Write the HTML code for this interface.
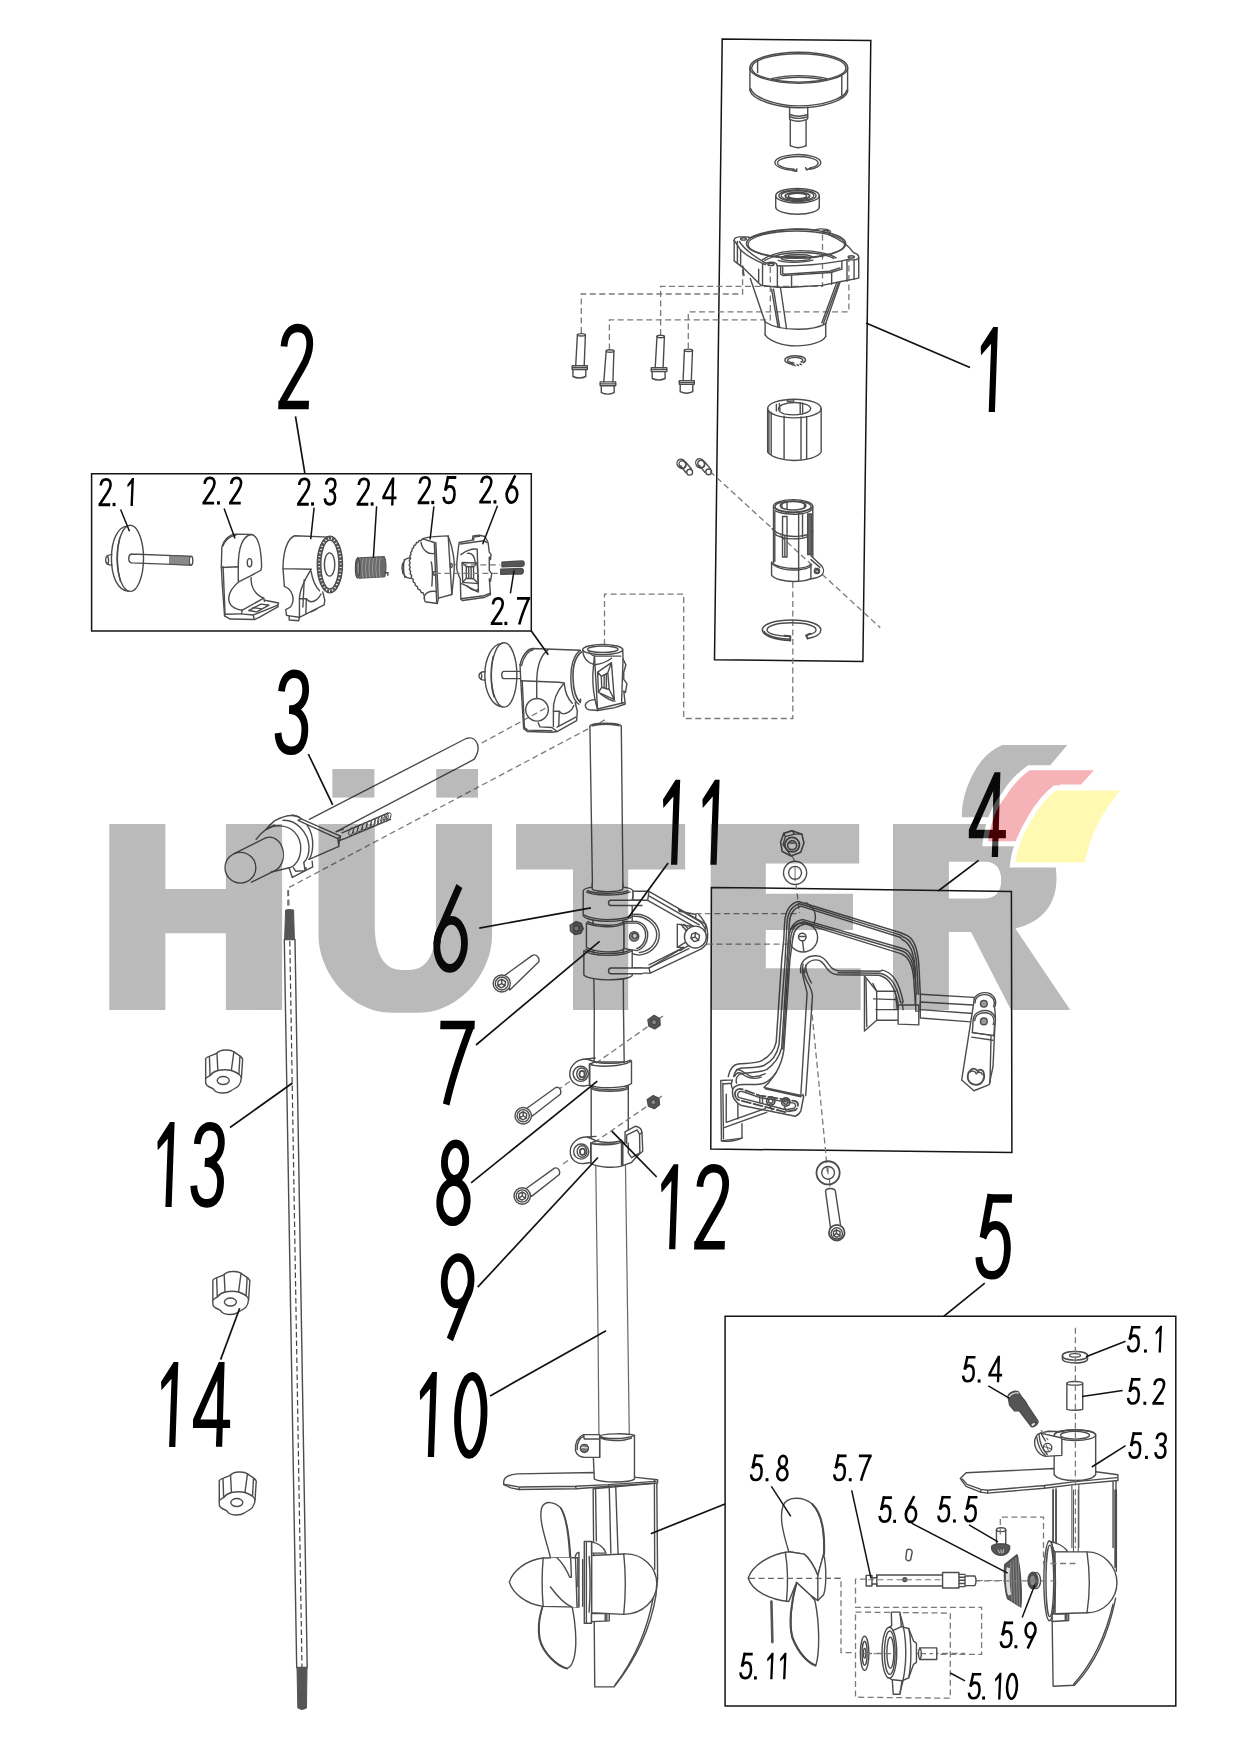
<!DOCTYPE html>
<html><head><meta charset="utf-8"><title>Diagram</title>
<style>
html,body{margin:0;padding:0;background:#fff;}
body{width:1241px;height:1755px;overflow:hidden;font-family:"Liberation Sans",sans-serif;}
svg{display:block}
.p{fill:none;stroke:#4c4c4c;stroke-width:1.4;vector-effect:non-scaling-stroke;stroke-linejoin:round;stroke-linecap:round}
.pf{fill:#fff;stroke:#4c4c4c;stroke-width:1.4;vector-effect:non-scaling-stroke;stroke-linejoin:round;stroke-linecap:round}
.d{fill:none;stroke:#7a7a7a;stroke-width:1.3;stroke-dasharray:6 3.5;vector-effect:non-scaling-stroke}
.k{fill:none;stroke:#111;stroke-width:1.7;vector-effect:non-scaling-stroke;stroke-linecap:butt}
.bx{fill:none;stroke:#151515;stroke-width:1.5}
.dk{fill:#555;stroke:#444;stroke-width:0.8}
svg path,svg ellipse,svg circle,svg line,svg rect,svg polyline,svg polygon{vector-effect:non-scaling-stroke}
.dg *{vector-effect:none}
</style></head><body>
<svg width="1241" height="1755" viewBox="0 0 1241 1755">
<rect width="1241" height="1755" fill="#fff"/>
<!-- 05_lib.py -->

<!-- 10_boxes.svg -->
<g class="bx">
<path d="M722.2,39 L870.8,40.6 L862.9,661.4 L714.5,659.8 Z"/>
<rect x="91.6" y="473.7" width="439.7" height="157.3"/>
<path d="M711.4,887.4 L1011.4,891.5 L1011.9,1152.6 L710.8,1149 Z"/>
<rect x="725.1" y="1316.3" width="450.7" height="389.6"/>
</g>

<!-- 20_box1.py -->
<path class="d" d="M581.3,333 V294 H742.6 V266" />
<path class="d" d="M660.6,335 V286.4 H822.5 V233" />
<path class="d" d="M688.3,348.5 V311.8 H848.9 V257.5" />
<path class="d" d="M609.4,349.5 V319.8 H770.3 V265.3" />
<path class="d" d="M710,471.4 L880.3,627.7" />
<path class="d" d="M792.8,582 V718.5 H683.7 V594.2 H604.5 V647" />
<ellipse class="p" cx="798.80" cy="67.70" rx="48.90" ry="15.50" />
<ellipse class="p" cx="798.80" cy="67.90" rx="47.20" ry="14.20" />
<path class="p" d="M749.9,67.7 V90.3 M847.6,67.7 V91.6" />
<path class="p" d="M749.9,90.3 C752,99 775,107.7 798.8,107.7 C823,107.7 846,100 847.6,91.6" />
<path class="p" d="M750.6,88.5 C753,97 775,105.9 798.8,105.9 C823,105.9 845,98.5 847,90" />
<path class="p" d="M771.6,78.6 C780,76.5 790,75.6 798.8,75.6 C808,75.6 819,76.5 827,78.6" />
<path class="p" d="M774,80 C782,78 790,77.2 798.8,77.2 C808,77.2 817,78 824.5,80" />
<path class="p" d="M757.6,60.6 V72.4 M841.8,76 V97.4" />
<path class="p" d="M789.6,107.3 V118.5 L790.3,120 V145.7 M807.7,107.3 V118.5 L806.1,120 V145.7" />
<path class="p" d="M789.6,114.5 Q798.6,118 807.7,114.5 M789.6,116.6 Q798.6,120.2 807.7,116.6 M790.3,119.6 Q798.3,123 806.1,119.6" />
<path class="p" d="M790.3,145.7 Q798.2,149.8 806.1,145.7" />
<path class="p" d="M795.80,170.57 A23.00,8.00 0.00 1 1 810.33,169.31" />
<path class="p" d="M794.27,169.20 A20.30,6.40 0.00 1 1 810.30,167.94" />
<path class="p" d="M792.5,170.5 l4,0.8 l0.3,-2.2 M810.5,168.2 l-3.8,1.6 l-1,-2" style="stroke-width:1.6"/>
<ellipse class="p" cx="797.50" cy="195.70" rx="21.80" ry="7.30" />
<ellipse class="p" cx="797.50" cy="195.70" rx="18.60" ry="5.90" />
<ellipse class="p" cx="797.50" cy="195.70" rx="16.30" ry="5.00" />
<ellipse class="p" cx="797.50" cy="195.90" rx="12.20" ry="3.60" style="stroke-width:1.8"/>
<ellipse class="p" cx="797.50" cy="196.00" rx="9.20" ry="2.60" />
<path class="p" d="M775.7,195.7 V206.9 M819.3,195.7 V206.9" />
<path class="p" d="M819.30,206.90 A21.80,7.30 0.00 0 1 775.70,206.90" />
<path class="p" d="M793.41,364.23 A10.30,4.30 0.00 1 1 803.09,362.76" style="stroke-width:1.5"/>
<path class="p" d="M793.88,362.96 A7.60,2.80 0.00 1 1 801.02,362.00" />
<path class="p" d="M791,364 l2,1.2 M794,364.6 l1.2,1.3 M797,364.6 l1.5,1 M800,364 l1.6,0.8" style="stroke-width:1.4"/>
<path class="p" d="M577.4,334.8 L575.7,365.8 M585.4,334.8 L584.2,365.8" /><path class="p" d="M577.40,334.80 A4.00,1.20 0.00 0 1 585.40,334.80 M585.40,334.80 A4.00,1.20 0.00 0 1 577.40,334.80" /><path class="p" d="M572.2,365.8 H587.3 V369.6 H572.2 Z" /><path class="p" d="M572.2,367.7 H587.3" /><path class="p" d="M572.9,369.6 V376.5 Q579.3,379.5 585.8,376.5 V369.6" />
<path class="p" d="M606.2,351.0 L603.8,381.9 M613.9,351.0 L612.9,381.9" /><path class="p" d="M606.20,351.00 A3.85,1.20 0.00 0 1 613.90,351.00 M613.90,351.00 A3.85,1.20 0.00 0 1 606.20,351.00" /><path class="p" d="M600.2,381.9 H615.7 V385.8 H600.2 Z" /><path class="p" d="M600.2,383.9 H615.7" /><path class="p" d="M601.3,385.8 V392.6 Q607.8,395.6 614.2,392.6 V385.8" />
<path class="p" d="M657.0,336.5 L655.2,367.7 M664.4,336.5 L663.1,367.7" /><path class="p" d="M657.00,336.50 A3.70,1.20 0.00 0 1 664.40,336.50 M664.40,336.50 A3.70,1.20 0.00 0 1 657.00,336.50" /><path class="p" d="M651.3,367.7 H666.8 V371.6 H651.3 Z" /><path class="p" d="M651.3,369.6 H666.8" /><path class="p" d="M652.2,371.6 V378.5 Q658.7,381.5 665.1,378.5 V371.6" />
<path class="p" d="M684.4,350.3 L683.1,380.6 M692.5,350.3 L691.3,380.6" /><path class="p" d="M684.40,350.30 A4.05,1.20 0.00 0 1 692.50,350.30 M692.50,350.30 A4.05,1.20 0.00 0 1 684.40,350.30" /><path class="p" d="M679.3,380.6 H694.3 V384.2 H679.3 Z" /><path class="p" d="M679.3,382.4 H694.3" /><path class="p" d="M680.2,384.2 V391.7 Q686.5,394.7 692.8,391.7 V384.2" />
<!-- 21_housing.svg -->
<g transform="translate(720,215) scale(0.128932)">
<g class="p">
<!-- opening ellipses -->
<ellipse cx="590" cy="223" rx="385" ry="112"/>
<ellipse cx="592" cy="228" rx="375" ry="104"/>
<!-- outer top contour with lugs -->
<path d="M230,178 C300,150 440,118 590,108 C650,106 700,110 740,116 C760,106 800,106 835,114 C862,122 866,138 838,150 C920,185 1000,235 1035,292 C1060,300 1078,312 1076,328 C1074,346 1040,352 985,346"/>
<path d="M110,198 C106,182 124,172 150,170 L205,170 C222,170 232,174 230,180"/>
<ellipse cx="182" cy="186" rx="22" ry="9"/>
<ellipse cx="818" cy="128" rx="22" ry="9"/>
<ellipse cx="1018" cy="325" rx="24" ry="9"/>
<ellipse cx="395" cy="383" rx="24" ry="9"/>
<!-- front edge of top surface -->
<path d="M110,198 C125,215 140,245 160,272 C200,310 270,350 352,385 C352,372 372,365 400,366 C425,367 442,376 442,392 L470,396 C560,396 760,388 945,356 L985,346"/>
<path d="M150,205 C190,275 280,330 352,372"/>
<!-- inner steps -->
<path d="M330,346 C400,300 500,276 620,276 C740,276 850,300 900,332"/>
<path d="M348,352 C420,312 520,291 620,291 C730,291 830,308 882,337"/>
<path d="M470,330 C500,312 560,306 610,306 C670,306 700,314 715,325"/>
<ellipse cx="588" cy="338" rx="112" ry="18"/>
<path d="M452,352 C500,372 640,372 720,350"/>
<!-- flange sides -->
<path d="M110,198 V356 M135,206 V372 M160,272 V392 M110,356 L180,410 L320,546"/>
<path d="M176,395 L186,470 M300,420 V520"/>
<path d="M330,380 V546 M445,396 V556 M320,546 L445,560 H555 L790,546 L940,516 L1076,490 V330"/>
<path d="M985,350 V514 M945,358 V420 M1040,352 V498"/>
<path d="M470,396 V458 L490,470 L860,446 L945,420"/>
<path d="M486,402 V452 L500,460 L850,436 L930,410"/>
<path d="M555,470 V560 M866,446 V538"/>
<!-- cone -->
<path d="M235,492 L350,830 M930,522 L820,842"/>
<path d="M400,575 L450,870 M415,575 L463,873 M470,570 L516,882"/>
<path d="M905,525 L790,835 M920,525 L802,842"/>
<!-- bottom cylinder -->
<path d="M350,830 V930 M820,842 V940"/>
<path d="M350,830 C400,862 480,886 600,886 C700,886 780,866 820,842"/>
<path d="M350,930 C380,975 480,1015 590,1015 C700,1015 800,985 820,940"/>
</g>
</g>

<!-- 22_box1b.svg -->
<!-- sleeve + screws : zoom 6.205 origin (660,390) -->
<g transform="translate(660,390) scale(0.161160)" class="p">
<ellipse cx="834" cy="115" rx="166" ry="58"/>
<path d="M735,118 C735,95 780,78 834,78 C890,78 935,95 935,115 C935,128 915,140 890,147 L880,150 C850,155 800,154 770,148 C750,142 737,132 735,118 Z"/>
<path d="M722,90 L722,130 M740,85 L745,125 M870,80 V150 M885,82 V148 M790,62 V70 L830,68 V60"/>
<path d="M668,115 V385 M1000,115 V385 M668,385 C690,415 760,437 834,437 C910,437 985,415 1000,385"/>
<path d="M676,130 V392 M690,138 V400 M770,162 V428 M875,168 V432 M910,165 V428"/>
<!-- screws -->
<ellipse cx="133" cy="458" rx="26" ry="30" transform="rotate(-35 133 458)"/>
<ellipse cx="140" cy="462" rx="20" ry="24" transform="rotate(-35 140 462)"/>
<path d="M128,470 L160,512 M160,448 L195,490"/>
<circle cx="184" cy="510" r="18"/>
<ellipse cx="249" cy="455" rx="26" ry="30" transform="rotate(-35 249 455)"/>
<ellipse cx="256" cy="459" rx="20" ry="24" transform="rotate(-35 256 459)"/>
<path d="M244,468 L278,510 M276,445 L312,488"/>
<circle cx="302" cy="508" r="18"/>
</g>
<!-- slotted sleeve + circlip : zoom 7.756 origin (720,490) -->
<g transform="translate(720,490) scale(0.128932)" class="p">
<ellipse cx="567" cy="125" rx="152" ry="50"/>
<ellipse cx="567" cy="122" rx="100" ry="33"/>
<ellipse cx="567" cy="128" rx="140" ry="44"/>
<path d="M480,140 V110 M655,140 V108 M520,95 V150"/>
<path d="M415,125 V560 M720,125 V515"/>
<path d="M425,160 C470,185 560,192 610,186 C660,182 700,168 715,150"/>
<path d="M405,300 C430,340 520,365 600,360 C650,357 700,345 720,318"/>
<path d="M415,335 C450,365 520,382 600,378 C650,375 690,362 712,345"/>
<path d="M485,205 H520 V520 H485 Z M503,360 V515"/>
<path d="M680,185 H712 V500 H680 Z" style="fill:#666"/>
<path d="M610,180 V700 M425,170 V555 M640,180 V365"/>
<path d="M400,560 V660 C420,690 500,710 567,710 C620,710 680,700 700,690"/>
<path d="M400,560 C430,595 520,612 600,608 C650,605 690,592 705,575"/>
<path d="M408,575 C440,608 520,624 600,620 C650,617 690,604 705,590"/>
<path d="M705,510 L790,590 C805,610 808,640 790,660 C775,675 740,685 700,690 M705,540 L775,600 M705,580 V690"/>
<circle cx="752" cy="628" r="20"/>
<circle cx="754" cy="630" r="12"/>
<!-- circlip -->
<path d="M545,1168 C430,1165 328,1130 328,1085 C328,1040 430,1008 555,1008 C680,1008 782,1040 782,1085 C782,1115 740,1140 680,1152"/>
<path d="M545,1135 C450,1135 365,1115 365,1085 C365,1052 450,1030 555,1030 C660,1030 745,1052 745,1085 C745,1100 720,1115 680,1122"/>
<path d="M545,1168 V1135 L500,1130 M680,1152 L668,1128 L700,1115" style="stroke-width:2"/>
<path d="M340,1095 C360,1135 450,1155 540,1158"/>
</g>

<!-- 23_box2.svg -->
<!-- 2.1, 2.2 : zoom 6.205 origin (90,470) -->
<g transform="translate(90,470) scale(0.161160)" class="p">
<ellipse cx="250" cy="548" rx="82" ry="205"/>
<path d="M232,348 C170,352 133,440 133,548 C133,660 170,745 238,752"/>
<path d="M185,420 C165,500 165,600 188,690"/>
<path d="M136,525 C110,525 97,540 97,558 C97,578 112,590 138,590"/>
<path d="M108,535 C118,545 118,575 108,585"/>
<path d="M258,521 L632,536 M258,576 L630,590 M258,521 C235,525 235,572 258,576"/>
<ellipse cx="627" cy="563" rx="11" ry="27"/>
<path d="M497,531 L618,536 L618,590 L497,585 Z" style="fill:#8a8a8a;stroke-width:0.8"/>
<!-- 2.2 -->
<path d="M835,905 L820,700 L815,600 L818,480 C825,440 860,400 905,398 L1000,400 C1040,405 1062,480 1065,600 L1060,622 L990,660 L925,692"/>
<path d="M920,600 C920,480 950,410 1000,400 M826,470 C835,440 865,408 905,405"/>
<path d="M815,605 L920,600 V690 M826,600 L838,895"/>
<ellipse cx="990" cy="575" rx="14" ry="25"/>
<path d="M925,692 C880,730 855,770 862,810 C870,850 910,868 945,870 L1078,795"/>
<path d="M1000,668 C995,720 1020,770 1078,795 L1082,815"/>
<path d="M945,870 L940,893 L1012,900 L1165,838 L1170,825 L1085,808"/>
<path d="M835,905 L870,925 L1020,928 L1050,915 L1168,848 L1165,838 M940,893 L838,895 M1012,900 L1020,928"/>
<path d="M985,872 L1060,832 L1110,838 L1035,880 Z M1010,855 L1060,860"/>
</g>
<!-- 2.3, 2.4 : zoom 7.3 origin (270,470) -->
<g transform="translate(270,470) scale(0.136986)" class="p">
<path d="M95,720 C95,600 125,500 180,480 L432,490"/>
<ellipse cx="437" cy="690" rx="80" ry="195" style="stroke:#5a5a5a;stroke-width:3.6;stroke-dasharray:2.6 0.9;stroke-linecap:butt"/>
<ellipse cx="437" cy="690" rx="92" ry="207"/>
<ellipse cx="437" cy="690" rx="66" ry="178"/>
<ellipse cx="435" cy="690" rx="38" ry="85"/>
<path d="M95,720 L300,725 M95,720 L105,850 C160,870 190,940 150,1000 L115,1020 L120,1060 L140,1065 L140,1095 L210,1100 L215,1075 L395,985 L400,950 L385,890"/>
<path d="M300,725 C260,790 215,880 215,940 V1075 M300,740 C310,800 330,850 362,882"/>
<path d="M265,940 C300,985 350,950 372,905 M215,940 L265,940 L262,1050 M250,800 L240,1000"/>
<path d="M140,1065 L215,1075 M300,1035 L340,1015"/>
<!-- spring -->
<path d="M640,642 L835,632 C850,660 850,740 838,780 L650,790 C625,770 622,670 640,642 Z" style="fill:#6a6a6a;stroke-width:1"/>
<path d="M655,650 C640,690 640,740 655,785 M680,648 C668,690 668,740 680,788 M705,646 C695,690 695,740 705,787 M730,645 C720,690 720,740 730,786 M755,644 C745,690 745,740 755,785 M780,642 C770,690 770,740 780,784 M805,640 C795,690 795,740 805,783" style="stroke:#bbb;stroke-width:0.6"/>
<ellipse cx="640" cy="716" rx="16" ry="72"/>
<path d="M838,750 L862,750 L860,768"/>
</g>
<!-- 2.5 2.6 2.7 : zoom 8.273 origin (395,470) -->
<g transform="translate(395,470) scale(0.120875)" class="p">
<path d="M130,730 C90,720 58,760 58,810 C58,860 90,905 135,895 M78,740 C68,780 68,850 82,890"/>
<path d="M230,570 L212,585 L200,582 L190,600 L178,600 L170,620 L158,622 L153,645 L142,650 L140,672 L130,680 L132,702 L122,712 L127,735 L118,748 L125,770 L117,785 L126,805 L119,822 L130,840 L125,858 L138,873 L135,892 L150,905 L150,925 L165,935 L168,955 L185,965 L190,985 L208,992 L215,1012 L232,1015 L240,1035 L245,1060"/>
<path d="M230,570 C250,555 290,550 440,545 L445,560 C480,650 495,760 490,820 C485,900 475,980 470,1030 L360,1060 L350,1105 L250,1090 L240,1060"/>
<path d="M325,600 L345,1100 M338,600 L358,1062 M440,545 L470,1030 M230,570 L325,600"/>
<path d="M215,600 C230,670 280,700 325,690 M245,1040 C260,1010 300,1000 340,1005"/>
<ellipse cx="325" cy="855" rx="9" ry="16"/>
<ellipse cx="465" cy="790" rx="9" ry="16"/>
<path d="M300,760 C310,800 310,900 305,960"/>
<!-- 2.6 -->
<path d="M530,600 L640,580 L645,545 L700,540 L745,550 L770,600 L780,680 L795,700 L790,740 L780,720 L780,830 L800,860 L790,920 L780,900 L790,1030 L735,1055 L560,1080 L545,1070 L540,900 C520,860 510,830 510,800 C510,760 520,680 530,600 Z"/>
<path d="M540,612 L735,585 L760,600 M650,580 L655,552 L700,548 M545,1065 L735,1040 L785,1020"/>
<path d="M545,700 C600,660 640,650 680,655 L690,1010 C660,1000 600,960 550,940"/>
<path d="M555,765 L680,770 L690,940 L560,930 Z M590,800 L650,800 L650,900 L590,895 Z M555,765 L590,800 M680,770 L650,800 M690,940 L650,900 M560,930 L590,895"/>
<path d="M600,690 C640,680 660,720 665,770 M600,960 C640,1000 670,1000 685,990 M610,800 V895 M630,800 V898" />
<!-- 2.7 screws -->
<path d="M885,762 L1050,752 C1075,752 1075,795 1050,797 L885,800 Z" style="fill:#555"/>
<path d="M875,820 L1040,815 C1068,815 1068,858 1040,860 L875,862 Z" style="fill:#555"/>
</g>
<path class="d" d="M451.8,564.9 L500.2,564.9 M434.9,573.3 L500.2,573.3"/>

<!-- 24_assembly.svg -->
<path class="d" d="M545.4,708.3 L478.5,744.8 M604.9,719.9 L287.8,888.1 V908"/>
<!-- assembly: zoom 6.894 origin (470,630) -->
<g transform="translate(470,630) scale(0.145054)" class="p">
<ellipse cx="235" cy="310" rx="88" ry="222"/>
<path d="M222,92 C150,95 102,200 102,310 C102,425 150,525 225,530"/>
<path d="M160,180 C140,260 140,380 165,460"/>
<path d="M104,288 C80,285 62,298 62,315 C62,335 82,348 106,345 M72,295 C84,305 84,330 74,340"/>
<path d="M345,285 H232 C215,288 215,332 232,335 H345"/>
<path d="M345,240 C360,170 400,130 430,128 L760,140"/>
<path d="M355,245 C370,180 405,140 435,136"/>
<path d="M345,240 L350,350 L370,680 L395,700 L565,705 L600,700 L735,625 L740,560 L725,500"/>
<path d="M360,350 L375,672 L398,690 L565,695"/>
<path d="M540,135 C490,170 462,250 460,350 V468"/>
<circle cx="462" cy="550" r="78"/>
<path d="M350,350 L612,360 L650,365 C600,420 570,480 575,560 V665"/>
<path d="M650,370 C655,430 675,475 705,505"/>
<path d="M615,560 C640,600 700,565 716,520 M575,560 L615,560 L612,660"/>
<path d="M470,640 L482,668 L565,672 M565,672 L600,700 M600,670 L730,600"/>
<path d="M760,140 C715,170 693,250 695,330 C697,420 715,490 750,512"/>
<path d="M770,150 C730,180 708,250 710,330 C712,410 728,470 760,500 L762,478" style="stroke-width:1.6"/>
<!-- right block -->
<ellipse cx="915" cy="135" rx="138" ry="35"/>
<ellipse cx="915" cy="133" rx="105" ry="22"/>
<path d="M777,140 C780,190 810,225 852,237 L858,180 M820,150 C830,175 860,182 880,180 H1040"/>
<path d="M1053,135 L1055,200 L1075,240 L1060,290 L1060,340 L1082,370 L1072,430 L1060,420 L1070,510 L1000,535 L880,555 L820,550 C795,545 790,520 800,505 C815,488 840,480 862,480"/>
<path d="M852,237 C845,300 845,400 862,480 L880,555 M858,180 L880,555"/>
<path d="M1055,200 L1045,505 M880,545 L1065,500"/>
<path d="M880,290 L975,225 L995,480 L885,430 Z M905,320 L950,295 L960,410 L908,395 Z M880,290 L905,320 M975,225 L950,295 M995,480 L960,410 M885,430 L908,395"/>
<path d="M860,240 C900,235 950,215 975,195 M925,310 V400 M940,305 V405"/>
<path d="M900,440 C940,470 975,490 1000,490"/>
</g>
<!-- tube top -->
<g class="p">
<ellipse cx="605.6" cy="726.5" rx="15.7" ry="3.3"/>
<ellipse cx="605.6" cy="726.7" rx="13.5" ry="2.4"/>
</g>

<!-- 25_handle.svg -->
<!-- handle 3: zoom 4.432 origin (210,720) -->
<g transform="translate(210,720) scale(0.225632)" class="p">
<path d="M440,440 L1135,82 C1180,68 1208,120 1170,175 L560,495"/>
<path d="M560,495 L590,485 M570,535 L600,525 L800,440 M585,500 L790,412"/>
<g style="stroke-width:1">
<ellipse cx="625" cy="495" rx="9" ry="18" transform="rotate(20 625 495)"/>
<ellipse cx="645" cy="487" rx="9" ry="18" transform="rotate(20 645 487)"/>
<ellipse cx="665" cy="479" rx="9" ry="18" transform="rotate(20 665 479)"/>
<ellipse cx="685" cy="471" rx="9" ry="18" transform="rotate(20 685 471)"/>
<ellipse cx="705" cy="463" rx="9" ry="18" transform="rotate(20 705 463)"/>
<ellipse cx="722" cy="456" rx="9" ry="18" transform="rotate(20 722 456)"/>
<ellipse cx="738" cy="450" rx="9" ry="18" transform="rotate(20 738 450)"/>
<ellipse cx="753" cy="444" rx="9" ry="18" transform="rotate(20 753 444)"/>
<ellipse cx="767" cy="438" rx="9" ry="18" transform="rotate(20 767 438)"/>
<ellipse cx="780" cy="433" rx="9" ry="18" transform="rotate(20 780 433)"/>
<ellipse cx="792" cy="428" rx="9" ry="18" transform="rotate(20 792 428)"/>
</g>
</g>
<!-- collar detail: zoom 9.546 origin (220,790) -->
<g transform="translate(220,790) scale(0.104756)" class="p">
<circle cx="195" cy="742" r="147"/>
<path d="M130,610 L440,455 M300,880 L500,782"/>
<path d="M440,455 C520,430 600,500 605,610 C608,700 560,770 490,782"/>
<path d="M345,472 C380,420 440,365 520,335 M450,375 C520,325 640,330 710,400 C760,455 775,520 770,570 C765,660 720,730 650,745 L500,782"/>
<path d="M520,295 C620,240 700,228 760,262 M440,375 C470,340 495,315 520,295"/>
<path d="M600,290 C720,280 840,400 850,540 C852,620 830,665 800,692"/>
<path d="M690,238 C800,250 890,380 885,530 C882,600 868,640 850,662"/>
<path class="pf" d="M745,290 L775,275 L1150,440 L1125,465 Z"/>
<path d="M850,662 L1130,540 L1150,440 M1125,465 L1135,540"/>
<path d="M660,745 L690,835 L885,735 L880,680 M700,742 L722,775 L812,770 L800,692 M812,770 L822,742"/>
</g>

<!-- 26_tube.svg -->
<!-- main tube 10 -->
<g class="pf">
<path d="M589.9,726.5 L592.2,870 L594.3,1010 L594.1,1062 L624.2,1062 L623.5,1010 L622.8,870 L621.3,726.5"/>
<path d="M591.2,1086 L591.2,1144 L628.3,1144 L628.3,1086 Z"/>
<path d="M595.7,1160 L598.1,1340 L599.5,1500 L630.8,1500 L629.3,1434.6 L625.4,1160 Z" style="stroke:#666;stroke-width:1.2"/>
</g>
<!-- clamps 6/7/11 : zoom 7.756 origin (560,870) -->
<g transform="translate(560,870) scale(0.128932)" class="p">
<!-- hinge bracket -->
<path class="pf" d="M565,165 H690 L1130,420 C1150,460 1150,540 1135,575 L1100,610 L700,800 H560 V760 H690 L960,600 L910,600 V420 L1040,440 L680,235 H565 Z"/>
<path d="M690,165 L680,235 M690,200 L1080,425"/>
<path d="M690,760 L700,800 M690,760 L1000,610 M690,735 L960,600"/>
<path d="M920,305 L1050,380 L1055,345 L925,320 Z M1050,380 C1090,400 1120,430 1130,470 M1075,345 C1110,380 1130,420 1135,450"/>
<path d="M940,420 L1000,500 M950,440 L985,470 M960,420 L995,455"/>
<path d="M910,600 L975,560 M930,625 L1000,585"/>
<circle class="pf" cx="1050" cy="520" r="85"/>
<path d="M1050,485 L1082,505 L1075,545 L1040,555 L1015,530 L1022,498 Z M1050,485 L1048,520 L1075,545 M1048,520 L1015,530"/>
<!-- lug -->
<path class="pf" d="M560,345 C680,330 770,420 770,500 C770,590 700,650 610,660 L560,650 Z"/>
<path d="M560,360 C670,350 750,430 750,500 C750,575 690,630 615,640"/>
<path class="pf" d="M495,400 H600 C660,410 685,470 680,515 C675,570 640,615 600,625 L495,610 Z"/>
<path d="M500,412 H595 C650,425 668,475 664,515 C660,560 630,600 595,610"/>
<circle cx="575" cy="515" r="36" style="fill:#888"/>
<circle cx="580" cy="510" r="20" style="fill:#ccc"/>
<!-- top collar -->
<path class="pf" d="M180,165 C180,140 260,128 370,128 C480,128 565,140 565,165 V205 L560,235 V360 C540,385 450,398 370,398 C300,398 200,385 180,355 Z"/>
<path d="M215,160 C260,185 440,190 530,160 M205,170 C250,200 460,205 545,170" />
<path class="pf" d="M250,150 C300,172 440,175 487,150 L487,100 L250,100 Z" style="stroke:none"/>
<path d="M250,150 C300,172 440,175 487,150 M250,150 V100 M487,150 V100"/>
<path d="M190,350 C230,375 330,385 370,385 C440,385 520,375 552,352"/>
<path class="pf" d="M640,235 H395 C370,238 370,272 395,275 H640" style="stroke-linecap:butt"/>
<!-- middle collar -->
<path class="pf" d="M205,410 C240,432 330,440 370,440 C420,440 470,432 495,415 V610 C480,625 430,635 370,635 C330,635 240,625 205,600 Z"/>
<path d="M215,400 C250,420 330,428 370,428 C420,428 465,420 488,405"/>
<!-- bottom collar -->
<path class="pf" d="M185,625 C215,650 300,662 370,662 C450,662 530,650 560,625 V818 C540,840 450,852 370,852 C300,852 210,840 185,815 Z"/>
<path d="M200,615 C240,640 320,648 370,648 C440,648 515,640 548,618"/>
<path class="pf" d="M640,760 H395 C370,763 370,802 395,805 H640" style="stroke-linecap:butt"/>
<!-- nut -->
<path d="M125,400 L165,415 L180,455 L160,492 L115,500 L82,475 L78,430 Z" style="fill:#666"/>
<circle cx="128" cy="452" r="22" style="fill:#999"/>
</g>

<!-- 27_clamps.svg -->
<path class="d" d="M663,1016 L654.1,1022.2 L575,1077.8 L560,1088.4 M662,1096 L653.2,1102 L575,1155.8 L560,1166"/>
<!-- bolt near 7 + nut : zoom 6.205 origin (480,940) -->
<g transform="translate(480,940) scale(0.161160)" class="p">
<path class="pf" d="M150,222 L325,95 C350,85 372,110 365,135 L185,310 Z"/>
<circle class="pf" cx="135" cy="270" r="53"/>
<circle cx="135" cy="270" r="40"/>
<path d="M135,243 L158,258 L155,285 L132,297 L110,283 L112,255 Z M135,243 V270 L155,285 M135,270 L110,283"/>
<path d="M1080,468 L1115,488 L1118,528 L1085,552 L1048,535 L1042,495 Z" style="fill:#555"/>
<circle cx="1080" cy="510" r="16" style="fill:#888"/>
</g>
<!-- clamps 8, 9, 12 : zoom 6.205 origin (480,1040) -->
<g transform="translate(480,1040) scale(0.161160)" class="p">
<!-- ring at top of wide tube -->
<path d="M690,300 C720,322 880,325 920,300 M690,290 C720,312 880,315 920,290"/>
<!-- clamp 8 -->
<path class="pf" d="M660,118 C600,118 557,160 557,210 C557,260 600,290 650,285 L680,280 L680,150 L715,135 Z"/>
<path class="pf" d="M680,150 C720,168 880,170 940,130 L940,270 C900,300 740,305 680,280 Z"/>
<path d="M715,135 C760,150 880,150 935,125 M660,118 L715,112 M680,150 V280"/>
<circle cx="625" cy="210" r="47"/>
<ellipse cx="630" cy="210" rx="30" ry="36"/>
<ellipse cx="633" cy="212" rx="16" ry="20" style="stroke-width:1.8"/>
<!-- clip 12 -->
<path class="pf" d="M900,570 L965,535 C990,540 1005,555 1005,575 L1010,690 L975,720 L940,760 L885,780 V640 L900,640 Z"/>
<path d="M910,590 L975,558 L990,585 M910,590 V640 M1005,575 L990,585 L992,700 L940,730 L920,700 V640 M975,720 L992,700"/>
<!-- clamp 9 -->
<path class="pf" d="M665,602 C605,600 560,645 560,692 C560,745 605,775 655,765 L688,760 L688,640 L720,625 Z"/>
<path class="pf" d="M688,640 C720,655 840,655 885,630 L885,780 C850,795 730,795 688,765 Z"/>
<path d="M720,625 C760,640 840,640 880,622 M665,602 L720,598 M688,640 V765 M878,640 V775"/>
<circle cx="628" cy="692" r="47"/>
<ellipse cx="633" cy="692" rx="30" ry="36"/>
<ellipse cx="636" cy="694" rx="16" ry="20" style="stroke-width:1.8"/>
<!-- bolts -->
<path class="pf" d="M285,428 L470,295 C492,288 508,310 500,335 L325,472 Z"/>
<circle class="pf" cx="268" cy="470" r="51"/>
<circle cx="268" cy="470" r="38"/>
<path d="M268,445 L290,458 L288,484 L266,496 L245,483 L246,457 Z M268,445 V470 L288,484 M268,470 L245,483"/>
<path class="pf" d="M280,926 L462,795 C485,788 500,810 492,835 L320,970 Z"/>
<circle class="pf" cx="262" cy="968" r="51"/>
<circle cx="262" cy="968" r="38"/>
<path d="M262,943 L284,956 L282,982 L260,994 L239,981 L240,955 Z M262,943 V968 L282,982 M262,968 L239,981"/>
<!-- nut 2 -->
<path d="M1075,345 L1110,362 L1114,402 L1082,426 L1045,410 L1038,370 Z" style="fill:#555"/>
<circle cx="1076" cy="386" r="16" style="fill:#888"/>
</g>

<!-- 28_box4.svg -->
<!-- dashed -->
<path class="d" d="M695.4,913.7 H799.5 M707,944.2 H800 M792.2,856 L795,862 M796,884 L799.5,913"/>
<path class="d" d="M811.2,1005.2 L825.5,1150 L827.3,1172"/>
<!-- box4 bands in source coords -->
<g class="p">
<!-- pivot circles -->
<path d="M806,902.5 C812,906 816,912 815.4,918.5 C815,922 813.5,925 811.5,927.5"/>
<circle class="pf" cx="803.1" cy="937.5" r="14.5"/>
<circle cx="802.3" cy="937" r="3.8"/>
<path d="M799,936.5 H805.5 M802.5,941 L803.8,951"/>
<g style="stroke-width:1.5">
<!-- band A -->
<path d="M920.3,994.3 L918.8,963.7 C917.5,948 913.5,938 906,935 L900,932.5 L798.3,901.5 C790.2,903.5 785.4,909.9 784.6,922.8 L783.8,938.9 L781.7,960 L776.2,1042.2 C774,1052 768,1058 759.8,1061.4 C752,1064 744,1063 737.9,1064.1 C733,1065 729.7,1069.6 728.3,1076.4"/>
<path d="M918.3,994.3 L916.8,964.5 C915.5,950 911,940 904,937.3 L900,934.9 L799.6,903.8 C791.9,905.9 787.8,912.3 787,922.8 L785.1,960 L779,1044.9 C777,1055 771,1062 763.9,1065.5 C756,1068.5 748,1067.3 740.6,1068.2 C736.5,1069 734.5,1072 733.8,1076.4"/>
<path d="M916.3,994.3 L914.8,965.2 C913.5,952 909.5,943 902.5,939.8 L900,937.3 L800.7,906.1 C794.3,908 789.9,913.9 789.4,922.8 L787.2,960 L781.7,1047.7 C779.5,1057 774,1064.5 766.6,1069.6 C758,1073.5 747,1072 741.5,1073.5 C737,1075 735.5,1079 736.5,1083"/>
<!-- band B -->
<path d="M915.7,975.9 C914.8,960 910.5,951 903.5,948.8 L900,947.8 L803.1,919.6 C793.5,921.2 789.4,927.6 788.6,938.9 L787.2,960"/>
<path d="M914.8,978 C913.8,963 909.5,954 902.8,951.2 L900,950.2 L803.9,921.7 C795.4,923.1 791.4,929.3 790.6,938.9 L788.6,960 L782.8,1049"/>
<path d="M915.7,1009.6 L913.9,980.5 C912.8,966 908.5,957 902,954.3 L900,953.4 L805.1,923.9 C797.2,925.2 793.5,930.9 792.7,938.9 L789.9,960 L783.8,1050.4 C782.5,1059 780,1066 776.2,1072.3 C773,1077.5 769,1081 763.9,1083.3 C756,1086 746,1083.5 739.2,1084.7 C735,1085.8 732.4,1088 732.4,1091.5 C732.4,1094.5 732.8,1096.5 733.8,1098.4 C735.5,1101.5 738,1103.8 740.6,1105.2 L795.4,1116.2 C798,1115 800,1113 800.9,1110.7 L803.6,1097 L803,1094.5"/>
</g>
<!-- hook wire -->
<path d="M800.7,972.8 C799.1,961.5 806.4,955.8 816,955.8 C822.5,955.8 825.7,959.9 829,964.7 C831.5,968.7 834,970.3 838.6,970.8 L880.5,971.2 L882,970.1 C893,972.2 899,982 903.2,1002"/>
<path d="M804.8,972.8 C804,964.7 809.6,959.9 816,959.9 C820.9,959.9 823.3,963.1 826.5,967.9 C829,972 832,974.4 837.8,974.7 L878.9,975.2 C889,977.5 894.5,986.5 898.1,1003.5"/>
<path d="M803,964 C801.5,972 806,980 809.5,986 C811.5,990 812.3,993 812.5,995.6 L805.7,1095.6"/>
<path d="M806,965 C805,972 808.5,978 811.5,983 M807.1,992.9 L800.9,1094.2 M802.3,967 C801.6,976 805,983 807.1,992.9"/>
<path d="M838,972.7 L879.5,973.2 C890.5,975.2 896.5,984 900.5,1002.5"/>
</g>
<!-- nut, washer : zoom 6.205 origin (700,810) -->
<g transform="translate(700,810) scale(0.161160)" class="p">
<path d="M572,128 L632,150 L645,205 L625,262 L565,285 L510,258 L500,200 L520,145 Z" style="stroke-width:1.6"/>
<path d="M520,145 L530,165 L585,150 L632,150 M530,165 L515,215 L565,285 M585,150 L572,128"/>
<circle cx="572" cy="215" r="45" style="stroke-width:1.8"/>
<circle cx="572" cy="218" r="28" style="stroke-width:1.6"/>
<path d="M555,205 H590"/>
<circle cx="590" cy="390" r="72"/>
<circle cx="590" cy="390" r="40"/>
<path d="M590,350 V440" style="stroke-width:0.8"/>
</g>
<!-- right part: zoom 6.532 origin (830,930) -->
<g transform="translate(830,930) scale(0.153092)" class="p">
<path class="pf" d="M225,300 L225,660 L305,590 L305,400 Z"/>
<path d="M235,320 L240,630 M305,400 L430,400 M285,450 L430,455 M300,520 L440,520 M305,590 L440,590 M305,400 L280,350"/>
<path class="pf" d="M445,490 H580 V620 L445,615 Z"/>
<path d="M430,440 L440,520 L445,490 M470,470 L478,520 M560,420 V530 H590 V420"/>
<path d="M590,420 L940,440 M590,470 L935,490 M590,520 L935,545 M590,575 L920,600 M590,470 V575"/>
<!-- link -->
<path class="pf" d="M940,470 C935,420 1000,395 1050,418 C1085,440 1088,480 1075,505 L1080,560 L1065,890 L1040,1010 L940,1050 L860,980 Z"/>
<path class="pf" d="M935,590 C935,540 1000,512 1050,535 C1080,555 1085,590 1075,620 L1070,690 L930,670 Z"/>
<path d="M948,475 C945,432 1000,410 1045,430 C1075,448 1078,480 1068,500 M945,592 C945,550 1000,528 1045,548 C1072,565 1075,595 1066,618"/>
<path d="M930,670 L1070,690 M1052,690 L1045,1000 M925,700 L1065,720"/>
<circle cx="1005" cy="482" r="22" style="fill:#999"/>
<circle cx="1005" cy="597" r="22" style="fill:#999"/>
<path d="M920,915 C930,900 960,905 965,925 C975,905 1000,910 1005,935 C1015,975 990,1010 955,1012 C920,1012 895,985 900,950 C902,935 910,922 920,915 Z" style="stroke-width:1.8"/>
<path d="M912,930 C925,915 950,920 955,940 C965,925 990,925 995,945"/>
</g>
<!-- foot: zoom 7.3 origin (705,960) -->
<g transform="translate(705,960) scale(0.136986)" class="p">
<path d="M430,930 L710,990 M430,930 L470,890 L520,820 M440,940 L700,998"/>
<path d="M220,965 C225,945 250,935 275,945 L400,990 L660,1030 C685,1040 685,1075 660,1095 L585,1110 L240,1020 C222,1005 215,985 220,965 Z" style="stroke-width:1.8;stroke-dasharray:9 3"/>
<path d="M240,975 C245,960 262,955 280,962 L400,1005 L650,1045 C665,1052 665,1070 650,1082 L590,1093 L250,1005 C240,998 236,988 240,975 Z"/>
<circle cx="480" cy="1030" r="30" style="stroke-width:1.8"/><circle cx="480" cy="1030" r="16"/>
<circle cx="590" cy="1037" r="30" style="stroke-width:1.8"/><circle cx="590" cy="1037" r="16"/>
<path d="M400,990 V1040 M420,995 V1045 M470,1060 L490,1095 M580,1075 L600,1105"/>
<path d="M230,800 C260,790 300,840 340,850 C380,855 420,840 440,830 M215,850 C240,800 270,830 300,850 C340,870 380,865 410,855"/>
<path d="M115,880 L120,1320 L270,1300 L270,1195 M115,880 L200,875 M130,900 L135,1305 M155,980 L155,1185 L440,1085 M135,1225 L450,1112 M240,1050 V1160 M200,875 C190,900 190,920 200,940 M130,905 L190,900"/>
<path d="M120,1320 C160,1330 230,1320 270,1300"/>
</g>
<!-- washer+bolt below box 4 : zoom 13.789 origin (790,1150) -->
<g transform="translate(790,1150) scale(0.072522)" class="p">
<circle cx="525" cy="315" r="160" style="stroke-width:1.8"/>
<circle cx="525" cy="315" r="88"/>
<path d="M525,250 V330 M545,400 L550,500" style="stroke-width:0.9"/>
<path class="pf" d="M490,570 C495,520 610,515 625,565 L700,1060 L560,1080 Z"/>
<circle class="pf" cx="645" cy="1140" r="108" style="stroke-width:1.8"/>
<circle cx="645" cy="1150" r="78"/>
<path d="M640,1100 L690,1125 L690,1180 L645,1205 L600,1180 L598,1125 Z M640,1100 V1150 L690,1180 M640,1150 L600,1180"/>
</g>

<!-- 29_rod.svg -->
<!-- rod 13 -->
<path class="d" d="M288.4,890 L289,908" style="stroke:#666"/>
<path class="pf" d="M284.3,939.5 L296.7,1667.5 L307.2,1667.5 L295,939.5 Z"/>
<path d="M289.8,941 L302,1667" style="fill:none;stroke:#444;stroke-width:1.2;stroke-dasharray:5.5 3"/>
<path d="M285.6,910 Q289.5,909 293.6,910 L294.4,939.5 L284.6,939.5 Z" style="fill:#555;stroke:#555;stroke-width:1"/>
<path d="M297,1667.5 L307,1667.5 L306.5,1708 Q302,1711 297.8,1708 Z" style="fill:#555;stroke:#555;stroke-width:1"/>

<g transform="translate(190,890) scale(0.125360)">
<path class="pf" d="M125,1345 C140,1325 190,1318 215,1300 C240,1272 320,1268 350,1290 C370,1312 410,1318 420,1350 L410,1500 C405,1575 355,1580 330,1600 C290,1628 210,1625 190,1592 C170,1570 130,1572 125,1540 Z"/>
<path class="p" d="M125,1505 C135,1490 150,1488 160,1480 C180,1455 200,1445 222,1440 C260,1432 300,1432 330,1440 C350,1448 375,1458 390,1470 C400,1478 408,1488 410,1500"/>
<path class="p" d="M155,1330 L160,1480 M215,1300 L222,1440 M350,1290 L330,1440 M398,1330 L390,1470"/>
<ellipse class="p" cx="265" cy="1520" rx="48" ry="32"/>
</g>
<g transform="translate(197.2,1111.5) scale(0.125360)">
<path class="pf" d="M125,1345 C140,1325 190,1318 215,1300 C240,1272 320,1268 350,1290 C370,1312 410,1318 420,1350 L410,1500 C405,1575 355,1580 330,1600 C290,1628 210,1625 190,1592 C170,1570 130,1572 125,1540 Z"/>
<path class="p" d="M125,1505 C135,1490 150,1488 160,1480 C180,1455 200,1445 222,1440 C260,1432 300,1432 330,1440 C350,1448 375,1458 390,1470 C400,1478 408,1488 410,1500"/>
<path class="p" d="M155,1330 L160,1480 M215,1300 L222,1440 M350,1290 L330,1440 M398,1330 L390,1470"/>
<ellipse class="p" cx="265" cy="1520" rx="48" ry="32"/>
</g>
<g transform="translate(203.6,1312) scale(0.125360)">
<path class="pf" d="M125,1345 C140,1325 190,1318 215,1300 C240,1272 320,1268 350,1290 C370,1312 410,1318 420,1350 L410,1500 C405,1575 355,1580 330,1600 C290,1628 210,1625 190,1592 C170,1570 130,1572 125,1540 Z"/>
<path class="p" d="M125,1505 C135,1490 150,1488 160,1480 C180,1455 200,1445 222,1440 C260,1432 300,1432 330,1440 C350,1448 375,1458 390,1470 C400,1478 408,1488 410,1500"/>
<path class="p" d="M155,1330 L160,1480 M215,1300 L222,1440 M350,1290 L330,1440 M398,1330 L390,1470"/>
<ellipse class="p" cx="265" cy="1520" rx="48" ry="32"/>
</g>

<!-- 30_motor.svg -->
<!-- motor assembly : zoom 6.205 origin (490,1450) -->
<g transform="translate(490,1450) scale(0.161160)" class="p">
<!-- skeg/leg -->
<path class="pf" d="M640,240 L650,1470 L770,1470 C880,1330 990,1150 1030,900 L1040,800 L1035,205 Z"/>
<path d="M655,245 L660,565 M740,230 L750,640 M780,225 L795,650 M1020,200 L1022,740"/>
<path d="M775,1460 C880,1320 970,1150 1012,920"/>
<!-- plate -->
<path class="pf" d="M85,200 C85,170 120,150 170,148 L650,140 L905,170 L1040,185 L1040,205 L740,225 L535,240 L180,245 L130,235 L85,215 Z"/>
<path d="M90,213 L185,230 L530,225 L735,215 L1030,195 M185,230 L180,245 M530,225 L535,240 M735,215 L740,225 M1020,185 L1022,200"/>
<!-- propeller blades -->
<path class="pf" d="M375,668 C350,560 300,440 320,360 C340,310 400,320 440,360 C480,420 500,560 505,790 L495,790 C470,730 440,690 415,668 Z"/>
<path d="M440,362 C478,425 496,560 500,785" style="stroke-width:1.7"/>
<path class="pf" d="M375,850 C330,950 290,1050 310,1170 C330,1260 420,1340 480,1355 C520,1340 540,1250 530,1120 C525,1040 515,1000 510,975 C470,960 420,910 375,850 Z"/>
<path d="M372,860 C328,955 288,1050 306,1170 C326,1262 418,1342 478,1357" style="stroke-width:1.7"/>
<!-- hub -->
<path class="pf" d="M330,670 C230,680 140,750 120,820 C140,890 230,960 330,970 L545,975 L545,668 Z"/>
<path d="M330,670 C322,760 322,880 330,970"/>
<path class="pf" d="M375,668 C390,690 450,740 495,790 L505,790 L505,668 Z" style="stroke:none"/>
<path d="M415,668 C440,690 470,730 495,790 L505,790 C504,740 502,700 500,668"/>
<path class="pf" d="M375,850 C420,910 470,960 510,975 L545,975 L545,850 Z" style="stroke:none"/>
<path d="M375,850 C420,910 470,960 510,975"/>
<path d="M540,640 L530,655 L540,975 M552,635 V975 M575,680 V970 M540,640 L552,635"/>
<!-- pod -->
<path class="pf" d="M630,570 C680,580 710,610 720,640 L630,640 Z"/>
<path class="pf" d="M630,655 L830,645 C950,640 1035,730 1035,830 C1035,930 950,1020 830,1020 L630,1010 Z"/>
<path d="M830,645 C842,760 842,900 830,1020"/>
<path class="pf" d="M585,568 H630 V1075 H585 Z"/>
<path d="M598,575 V1070 M615,660 C622,760 622,900 615,1005"/>
<path class="pf" d="M630,1015 H740 V1060 L630,1065 Z"/>
<path d="M715,1020 V1060 M725,1020 V1060"/>
</g>
<!-- collar : zoom 10.342 origin (560,1410) -->
<g transform="translate(560,1410) scale(0.096693)" class="p">
<path class="pf" d="M410,270 C420,245 700,235 770,262 L770,715 C720,755 430,755 355,715 L345,490 L410,490 Z"/>
<path d="M415,285 C460,320 640,330 740,290 M410,270 C450,300 660,310 770,262"/>
<path class="pf" d="M410,255 H245 C180,280 155,340 160,420 C170,470 220,490 260,490 H410 Z"/>
<path d="M250,270 C200,290 175,340 178,410 M245,255 L250,300 L410,300" />
<circle cx="252" cy="397" r="42" style="fill:#777"/>
<path d="M225,390 C245,375 265,400 280,390" style="stroke:#ddd"/>
</g>

<!-- 31_box5.svg -->
<!-- box5 right-top : zoom 5.171 origin (940,1320) -->
<g transform="translate(940,1320) scale(0.193386)" class="p">
<!-- leg upper -->
<path class="pf" d="M585,870 V1200 H910 V830 Z" style="stroke:none"/>
<path d="M585,875 V1200 M600,872 V1200 M895,835 V1200 M910,830 V1200"/>
<path d="M682,850 V1200 M718,850 V1200" style="stroke-width:1"/>
<!-- plate -->
<path class="pf" d="M105,820 L135,790 L590,768 L805,785 L920,800 L920,830 L700,850 L540,870 L245,895 L210,890 L135,860 Z"/>
<path d="M115,822 L140,850 L212,876 L248,880 L540,856 L700,836 L915,815 M212,876 L210,890 M248,880 L245,895 M540,856 L540,870"/>
<!-- collar 5.3 -->
<path class="pf" d="M591,595 C591,560 805,560 805,595 V800 C780,840 620,840 590,800 Z"/>
<ellipse cx="698" cy="595" rx="107" ry="28"/>
<ellipse cx="698" cy="596" rx="75" ry="20"/>
<path class="pf" d="M520,585 L630,610 V700 L545,705 C510,700 485,660 490,620 C495,600 505,588 520,585 Z"/>
<path d="M520,585 L560,575 L640,578 M500,605 C505,640 520,680 545,700 M512,592 C515,630 530,670 555,695 M525,590 L545,625"/>
<circle cx="556" cy="660" r="22"/>
<path d="M540,655 L572,665 M550,645 L560,675" style="stroke-width:0.9"/>
<!-- washer 5.1 -->
<path class="pf" d="M633,185 C633,155 763,155 763,185 V200 C763,230 633,230 633,200 Z"/>
<path d="M633,185 C633,215 763,215 763,185"/>
<ellipse cx="698" cy="183" rx="28" ry="9"/>
<!-- sleeve 5.2 -->
<path class="pf" d="M656,328 C656,315 738,315 738,328 V462 C720,468 675,468 656,462 Z"/>
<path d="M656,328 C656,340 738,340 738,328"/>
<!-- screw 5.4 -->
<path d="M352,398 C350,378 385,362 405,372 L420,395 L440,420 L455,445 L505,520 C512,535 490,558 470,548 L410,470 L385,470 L360,440 Z" style="fill:#555"/>
<path d="M356,400 C360,385 390,372 405,378" style="stroke:#eee;stroke-width:1.2"/>
<ellipse cx="482" cy="540" rx="14" ry="9" transform="rotate(-35 482 540)" style="fill:#eee"/>
</g>
<path class="d" d="M1075.4,1327.7 V1627 M1041,1430 L1048,1440"/>
<!-- box5 right-bottom : zoom 5.171 origin (940,1490) -->
<g transform="translate(940,1490) scale(0.193386)" class="p">
<path class="pf" d="M580,680 L585,1015 L695,1010 C800,900 870,750 905,560 L910,400 V300 H580 Z" style="stroke:none"/>
<path d="M585,0 V265 M600,0 V290 M905,0 V400 M912,0 V420"/>
<path d="M690,0 V320 M715,0 V320" style="stroke-width:1"/>
<path d="M580,680 L585,1015 L695,1010 C800,900 870,750 908,560"/>
<path d="M690,1005 C790,895 855,760 895,590"/>
<!-- pod -->
<path class="pf" d="M560,265 C600,270 645,290 660,320 L595,322 Z"/>
<path class="pf" d="M595,320 L760,320 C850,320 915,400 915,480 C915,560 850,635 760,635 L595,640 Z"/>
<path d="M760,320 C775,420 775,540 760,635"/>
<ellipse class="pf" cx="566" cy="470" rx="29" ry="206"/>
<ellipse cx="568" cy="470" rx="20" ry="185"/>
<path d="M575,268 C590,300 598,420 597,480 C596,560 590,640 580,676"/>
<path class="pf" d="M580,642 H665 V675 L580,680 Z"/>
<path d="M648,645 V675 M656,645 V675"/>
<!-- bushing 5.9 -->
<ellipse class="pf" cx="497" cy="468" rx="23" ry="42"/>
<ellipse cx="481" cy="468" rx="26" ry="43" style="fill:#4f4f4f"/>
<ellipse cx="479" cy="468" rx="12" ry="24" style="fill:#8c8c8c;stroke:none"/>
<!-- gear 5.6 -->
<path d="M335,385 L398,335 C415,400 425,520 418,605 L350,562 C335,520 330,440 335,385 Z" style="fill:#5a5a5a"/>
<path d="M345,400 C338,440 340,510 352,545 L368,540 C360,500 358,440 362,405 Z" style="fill:#ddd;stroke:none"/>
<path d="M365,375 L372,580 M378,365 L386,590 M392,352 L400,598 M405,345 L412,600" style="stroke:#999;stroke-width:0.7"/>
<!-- screw 5.5 -->
<path class="pf" d="M292,205 C292,192 340,192 340,205 V280 H292 Z"/>
<path d="M292,208 C300,218 332,218 340,208"/>
<path d="M268,290 C285,275 345,275 360,290 C365,310 350,335 315,338 C280,335 262,310 268,290 Z" style="fill:#555"/>
<path d="M300,310 L308,325 M315,310 L318,326 M328,308 L326,324" style="stroke:#ddd;stroke-width:0.8"/>
</g>
<path class="d" d="M1000.3,1534.5 V1517.1 H1043.5 V1563.5 H1075.4"/>
<path class="d" d="M749,1578.3 H841 V1652.7 H855.5 M866,1653.5 H965 M965,1580.9 H1054"/>
<path class="d" d="M866,1579.2 H855.5 V1607.3 H981.6 V1654.4 H940"/>
<path class="d" d="M855.5,1612.1 L950.3,1613.1 L950.3,1698.2 L855.5,1697.2 Z"/>
<!-- box5 left : zoom 5.171 origin (725,1440) -->
<g transform="translate(725,1440) scale(0.193386)" class="p">
<!-- propeller -->
<path class="pf" d="M330,578 C300,480 280,400 300,340 C320,290 400,290 450,330 C500,380 515,480 510,590 L480,700 C460,650 440,615 410,590 Z"/>
<path d="M452,332 C502,382 517,480 512,590" style="stroke-width:2"/>
<path class="pf" d="M510,590 C525,650 525,760 510,800 L480,830 L440,800 L370,735 L480,700 Z"/>
<path class="pf" d="M370,735 C345,830 330,950 350,1020 C380,1100 430,1150 470,1165 C490,1100 490,950 465,830 L440,800 Z"/>
<path d="M368,745 C343,835 328,950 348,1022 C378,1102 428,1152 468,1167" style="stroke-width:2"/>
<path class="pf" d="M330,578 C230,590 140,650 120,715 C140,780 230,825 330,835 L370,735 L440,800 L480,830 L480,700 C460,650 440,615 410,590 Z"/>
<path d="M312,580 C325,660 325,760 318,835"/>
<path d="M240,835 L245,1045" style="stroke:#555;stroke-width:2.6"/>
<!-- shaft 5.7 -->
<path class="pf" d="M730,700 H760 V712 H785 V698 H1125 V685 H1210 V765 H1125 V755 H785 V745 H760 V755 H730 Z"/>
<path d="M760,712 V745 M785,698 V755 M1125,698 V755 M1210,695 H1241 M1210,758 H1241 M1210,710 H1241 M1210,725 H1241 M1210,742 H1241"/>
<circle cx="930" cy="722" r="10" style="fill:#777"/>
<path class="pf" d="M1241,703 H1292 C1300,715 1300,741 1292,753 H1241 Z"/>
<path class="pf" d="M940,570 C950,560 968,565 968,580 L960,618 C952,630 935,625 935,610 Z"/>
<!-- 5.10 parts -->
<ellipse class="pf" cx="722" cy="1103" rx="22" ry="88"/>
<ellipse cx="722" cy="1103" rx="13" ry="62"/>
<ellipse cx="722" cy="1103" rx="6" ry="25"/>
<path class="pf" d="M860,890 H905 L912,965 L950,975 L975,1040 L990,1050 V1150 L975,1160 L950,1230 L915,1245 L905,1315 H870 L865,1240 L850,1232 V968 L862,960 Z"/>
<ellipse class="pf" cx="850" cy="1100" rx="38" ry="132"/>
<ellipse cx="852" cy="1100" rx="28" ry="112"/>
<ellipse cx="855" cy="1100" rx="18" ry="80"/>
<path d="M905,900 C925,960 935,1040 935,1100 C935,1160 925,1240 905,1305 M950,975 C965,1040 965,1160 950,1230 M870,985 L912,965 M868,1240 L915,1245"/>
<path class="pf" d="M1008,1075 H1095 V1135 H1008 C998,1120 998,1090 1008,1075 Z"/>
<path d="M1008,1075 C1018,1090 1018,1120 1008,1135"/>
</g>
<path class="d" d="M749,1578.3 H841" style="stroke:#666"/>
<path class="d" d="M868,1579.7 H943 M977,1580.5 H1006" style="stroke-width:1.1"/>
<path class="d" d="M864,1653.6 H875 M885,1653.6 H895 M920,1653.6 H933" style="stroke-width:1.1"/>

<!-- 40_leaders.svg -->
<g class="k">
<path d="M866,323 L970,367.5"/>
<path d="M295.5,416.4 L304.9,473.7"/>
<path d="M308.3,754 L332.7,804.8"/>
<path d="M978.6,860.4 L938.2,891"/>
<path d="M984.8,1283.2 L943.7,1316.3"/>
<path d="M479.2,928.1 L590.9,907.8"/>
<path d="M476,1045 L599.6,941.3"/>
<path d="M471.1,1182.8 L597.3,1081.2"/>
<path d="M477.7,1287.2 L597.9,1157.5"/>
<path d="M490.1,1395.9 L606,1330.7"/>
<path d="M668.1,863.1 L628.2,917.8"/>
<path d="M656.7,1177 L611.8,1131.1"/>
<path d="M230,1127.5 L292.5,1083"/>
<path d="M220.6,1359.6 L239.7,1308.3"/>
<path d="M725,1504 L650.8,1533.7"/>
<path d="M531.3,631 L548.3,654.8"/>
</g>
<g class="k" style="stroke-width:1.5">
<path d="M120.6,509.5 L129.5,531.2"/>
<path d="M224.1,508.4 L235,538.5"/>
<path d="M314.1,507.7 L310.7,539.2"/>
<path d="M376.6,506.3 L373.4,557.7"/>
<path d="M433.9,506.3 L430.1,539.5"/>
<path d="M497.5,505.7 L482.6,544.3"/>
<path d="M514.1,570.3 L510.4,593.3"/>
</g>
<g class="k" style="stroke-width:1.5">
<path d="M1125.6,1341.3 L1086,1356.7"/>
<path d="M1122.7,1390.6 L1082.1,1396.4"/>
<path d="M1125.6,1445.7 L1091.8,1467"/>
<path d="M988.3,1385.8 L1009.6,1398.3"/>
<path d="M969,1524.8 L998,1541.8"/>
<path d="M911.6,1523.2 L1007.7,1573.2"/>
<path d="M1022.2,1617.6 L1034.8,1584.8"/>
<path d="M950.3,1673 L965,1680.8"/>
<path d="M771.4,1486.4 L790.8,1516.4"/>
<path d="M851.7,1490.3 L871,1578.3"/>
</g>

<!-- 50_digits.py -->
<g class="dg" transform="translate(1127.20,1325.80) scale(0.3720,0.3130) translate(0,42.80) skewX(-2) translate(0,-42.80) scale(6.800,8.600)" fill="none" stroke="#000" stroke-width="1" stroke-linejoin="round"><path d="M 1.426,0.535 H 5.029"/><path d="M 1.912,0.035 L 0.971,5.116"/><path d="M 0.971,5.116 C 1.324,4.186 1.912,3.651 2.721,3.651 C 3.897,3.651 4.618,4.767 4.618,6.512 C 4.618,8.372 3.824,9.465 2.426,9.465 C 1.250,9.465 0.588,8.605 0.471,7.349"/></g>
<rect transform="translate(1144.00,1325.80) scale(0.3720,0.3130)" x="0" y="75.5" width="7.6" height="10.1" fill="#000"/>
<path transform="translate(1155.60,1325.80) scale(0.3720,0.3130)" d="M12.60,0.00 L17.20,0.00 L14.25,85.00 L8.00,85.00 L10.40,16.80 L0.35,28.30 L0.00,19.70 Z " fill="#000" fill-rule="evenodd"/>
<g class="dg" transform="translate(1127.20,1378.00) scale(0.3720,0.3130) translate(0,42.80) skewX(-2) translate(0,-42.80) scale(6.800,8.600)" fill="none" stroke="#000" stroke-width="1" stroke-linejoin="round"><path d="M 1.426,0.535 H 5.029"/><path d="M 1.912,0.035 L 0.971,5.116"/><path d="M 0.971,5.116 C 1.324,4.186 1.912,3.651 2.721,3.651 C 3.897,3.651 4.618,4.767 4.618,6.512 C 4.618,8.372 3.824,9.465 2.426,9.465 C 1.250,9.465 0.588,8.605 0.471,7.349"/></g>
<rect transform="translate(1143.40,1378.00) scale(0.3720,0.3130)" x="0" y="75.5" width="7.6" height="10.1" fill="#000"/>
<g class="dg" transform="translate(1152.70,1378.00) scale(0.3720,0.3130) translate(0,42.80) skewX(-2) translate(0,-42.80) scale(6.800,8.600)" fill="none" stroke="#000" stroke-width="1" stroke-linejoin="round"><path d="M 0.603,2.651 C 0.662,1.221 1.471,0.500 2.574,0.500 C 3.750,0.500 4.382,1.337 4.382,2.442 C 4.382,3.488 3.897,4.360 3.368,5.116 L 0.779,8.942 L 0.529,9.453"/><path d="M 0.074,9.453 H 4.559"/></g>
<g class="dg" transform="translate(1128.60,1432.20) scale(0.3720,0.3130) translate(0,42.80) skewX(-2) translate(0,-42.80) scale(6.800,8.600)" fill="none" stroke="#000" stroke-width="1" stroke-linejoin="round"><path d="M 1.426,0.535 H 5.029"/><path d="M 1.912,0.035 L 0.971,5.116"/><path d="M 0.971,5.116 C 1.324,4.186 1.912,3.651 2.721,3.651 C 3.897,3.651 4.618,4.767 4.618,6.512 C 4.618,8.372 3.824,9.465 2.426,9.465 C 1.250,9.465 0.588,8.605 0.471,7.349"/></g>
<rect transform="translate(1145.00,1432.20) scale(0.3720,0.3130)" x="0" y="75.5" width="7.6" height="10.1" fill="#000"/>
<g class="dg" transform="translate(1154.70,1432.20) scale(0.3720,0.3130) translate(0,42.80) skewX(-2) translate(0,-42.80) scale(6.800,8.600)" fill="none" stroke="#000" stroke-width="1" stroke-linejoin="round"><path d="M 0.691,2.558 C 0.809,1.163 1.544,0.500 2.500,0.500 C 3.603,0.500 4.235,1.279 4.235,2.500 C 4.235,3.721 3.382,4.698 1.912,4.698"/><path d="M 1.912,4.698 C 3.456,4.698 4.324,5.698 4.324,7.093 C 4.324,8.547 3.676,9.465 2.426,9.465 C 1.250,9.465 0.515,8.721 0.397,7.395"/></g>
<g class="dg" transform="translate(962.20,1355.80) scale(0.3720,0.3130) translate(0,42.80) skewX(-2) translate(0,-42.80) scale(6.800,8.600)" fill="none" stroke="#000" stroke-width="1" stroke-linejoin="round"><path d="M 1.426,0.535 H 5.029"/><path d="M 1.912,0.035 L 0.971,5.116"/><path d="M 0.971,5.116 C 1.324,4.186 1.912,3.651 2.721,3.651 C 3.897,3.651 4.618,4.767 4.618,6.512 C 4.618,8.372 3.824,9.465 2.426,9.465 C 1.250,9.465 0.588,8.605 0.471,7.349"/></g>
<rect transform="translate(977.70,1355.80) scale(0.3720,0.3130)" x="0" y="75.5" width="7.6" height="10.1" fill="#000"/>
<path transform="translate(988.30,1355.80) scale(0.3720,0.3130)" d="M25.80,0.00 L31.60,0.00 L30.00,57.70 L37.10,57.70 L37.10,66.00 L29.70,66.00 L29.20,84.80 L22.90,84.80 L23.60,66.00 L0.00,66.00 L0.00,57.50 Z M24.40,18.60 L7.40,57.50 L23.90,57.50 Z " fill="#000" fill-rule="evenodd"/>
<g class="dg" transform="translate(937.50,1495.80) scale(0.3720,0.3130) translate(0,42.80) skewX(-2) translate(0,-42.80) scale(6.800,8.600)" fill="none" stroke="#000" stroke-width="1" stroke-linejoin="round"><path d="M 1.426,0.535 H 5.029"/><path d="M 1.912,0.035 L 0.971,5.116"/><path d="M 0.971,5.116 C 1.324,4.186 1.912,3.651 2.721,3.651 C 3.897,3.651 4.618,4.767 4.618,6.512 C 4.618,8.372 3.824,9.465 2.426,9.465 C 1.250,9.465 0.588,8.605 0.471,7.349"/></g>
<rect transform="translate(953.00,1495.80) scale(0.3720,0.3130)" x="0" y="75.5" width="7.6" height="10.1" fill="#000"/>
<g class="dg" transform="translate(964.20,1495.80) scale(0.3720,0.3130) translate(0,42.80) skewX(-2) translate(0,-42.80) scale(6.800,8.600)" fill="none" stroke="#000" stroke-width="1" stroke-linejoin="round"><path d="M 1.426,0.535 H 5.029"/><path d="M 1.912,0.035 L 0.971,5.116"/><path d="M 0.971,5.116 C 1.324,4.186 1.912,3.651 2.721,3.651 C 3.897,3.651 4.618,4.767 4.618,6.512 C 4.618,8.372 3.824,9.465 2.426,9.465 C 1.250,9.465 0.588,8.605 0.471,7.349"/></g>
<g class="dg" transform="translate(878.70,1496.10) scale(0.3720,0.3130) translate(0,42.80) skewX(-2) translate(0,-42.80) scale(6.800,8.600)" fill="none" stroke="#000" stroke-width="1" stroke-linejoin="round"><path d="M 1.426,0.535 H 5.029"/><path d="M 1.912,0.035 L 0.971,5.116"/><path d="M 0.971,5.116 C 1.324,4.186 1.912,3.651 2.721,3.651 C 3.897,3.651 4.618,4.767 4.618,6.512 C 4.618,8.372 3.824,9.465 2.426,9.465 C 1.250,9.465 0.588,8.605 0.471,7.349"/></g>
<rect transform="translate(893.20,1496.10) scale(0.3720,0.3130)" x="0" y="75.5" width="7.6" height="10.1" fill="#000"/>
<g class="dg" transform="translate(904.80,1496.10) scale(0.3720,0.3130) translate(0,42.80) skewX(-2) translate(0,-42.80) scale(6.800,8.600)" fill="none" stroke="#000" stroke-width="1" stroke-linejoin="round"><ellipse cx="2.529" cy="6.791" rx="2.029" ry="2.791"/><path d="M 3.515,0.000 L 0.765,5.465 C 0.588,5.814 0.500,6.279 0.500,6.791"/></g>
<g class="dg" transform="translate(833.30,1454.50) scale(0.3720,0.3130) translate(0,42.80) skewX(-2) translate(0,-42.80) scale(6.800,8.600)" fill="none" stroke="#000" stroke-width="1" stroke-linejoin="round"><path d="M 1.426,0.535 H 5.029"/><path d="M 1.912,0.035 L 0.971,5.116"/><path d="M 0.971,5.116 C 1.324,4.186 1.912,3.651 2.721,3.651 C 3.897,3.651 4.618,4.767 4.618,6.512 C 4.618,8.372 3.824,9.465 2.426,9.465 C 1.250,9.465 0.588,8.605 0.471,7.349"/></g>
<rect transform="translate(848.80,1454.50) scale(0.3720,0.3130)" x="0" y="75.5" width="7.6" height="10.1" fill="#000"/>
<g class="dg" transform="translate(858.40,1454.50) scale(0.3720,0.3130) translate(0,42.80) skewX(-2) translate(0,-42.80) scale(6.800,8.600)" fill="none" stroke="#000" stroke-width="1" stroke-linejoin="round"><path d="M 0.000,0.500 H 5.044"/><path d="M 4.500,0.581 C 3.235,3.488 2.059,6.395 1.265,9.756"/></g>
<g class="dg" transform="translate(750.10,1454.50) scale(0.3720,0.3130) translate(0,42.80) skewX(-2) translate(0,-42.80) scale(6.800,8.600)" fill="none" stroke="#000" stroke-width="1" stroke-linejoin="round"><path d="M 1.426,0.535 H 5.029"/><path d="M 1.912,0.035 L 0.971,5.116"/><path d="M 0.971,5.116 C 1.324,4.186 1.912,3.651 2.721,3.651 C 3.897,3.651 4.618,4.767 4.618,6.512 C 4.618,8.372 3.824,9.465 2.426,9.465 C 1.250,9.465 0.588,8.605 0.471,7.349"/></g>
<rect transform="translate(765.60,1454.50) scale(0.3720,0.3130)" x="0" y="75.5" width="7.6" height="10.1" fill="#000"/>
<g class="dg" transform="translate(776.20,1454.50) scale(0.3720,0.3130) translate(0,42.80) skewX(-2) translate(0,-42.80) scale(6.800,8.600)" fill="none" stroke="#000" stroke-width="1" stroke-linejoin="round"><ellipse cx="2.551" cy="2.558" rx="1.566" ry="2.058"/><ellipse cx="2.522" cy="7.233" rx="2.022" ry="2.326"/></g>
<g class="dg" transform="translate(999.90,1621.50) scale(0.3720,0.3130) translate(0,42.80) skewX(-2) translate(0,-42.80) scale(6.800,8.600)" fill="none" stroke="#000" stroke-width="1" stroke-linejoin="round"><path d="M 1.426,0.535 H 5.029"/><path d="M 1.912,0.035 L 0.971,5.116"/><path d="M 0.971,5.116 C 1.324,4.186 1.912,3.651 2.721,3.651 C 3.897,3.651 4.618,4.767 4.618,6.512 C 4.618,8.372 3.824,9.465 2.426,9.465 C 1.250,9.465 0.588,8.605 0.471,7.349"/></g>
<rect transform="translate(1014.50,1621.50) scale(0.3720,0.3130)" x="0" y="75.5" width="7.6" height="10.1" fill="#000"/>
<g class="dg" transform="translate(1024.10,1621.50) scale(0.3720,0.3130) translate(0,42.80) skewX(-2) translate(0,-42.80) scale(6.800,8.600)" fill="none" stroke="#000" stroke-width="1" stroke-linejoin="round"><ellipse cx="2.471" cy="3.198" rx="1.971" ry="2.698"/><path d="M 4.353,3.953 L 1.632,10.035"/></g>
<g class="dg" transform="translate(968.00,1672.80) scale(0.3720,0.3130) translate(0,42.80) skewX(-2) translate(0,-42.80) scale(6.800,8.600)" fill="none" stroke="#000" stroke-width="1" stroke-linejoin="round"><path d="M 1.426,0.535 H 5.029"/><path d="M 1.912,0.035 L 0.971,5.116"/><path d="M 0.971,5.116 C 1.324,4.186 1.912,3.651 2.721,3.651 C 3.897,3.651 4.618,4.767 4.618,6.512 C 4.618,8.372 3.824,9.465 2.426,9.465 C 1.250,9.465 0.588,8.605 0.471,7.349"/></g>
<rect transform="translate(982.20,1672.80) scale(0.3720,0.3130)" x="0" y="75.5" width="7.6" height="10.1" fill="#000"/>
<path transform="translate(995.10,1672.80) scale(0.3720,0.3130)" d="M12.60,0.00 L17.20,0.00 L14.25,85.00 L8.00,85.00 L10.40,16.80 L0.35,28.30 L0.00,19.70 Z " fill="#000" fill-rule="evenodd"/>
<g class="dg" transform="translate(1005.80,1672.80) scale(0.3720,0.3130) translate(0,42.80) skewX(-2) translate(0,-42.80) scale(6.800,8.600)" fill="none" stroke="#000" stroke-width="1" stroke-linejoin="round"><ellipse cx="2.441" cy="5.047" rx="1.941" ry="4.547"/></g>
<g class="dg" transform="translate(739.50,1652.70) scale(0.3720,0.3130) translate(0,42.80) skewX(-2) translate(0,-42.80) scale(6.800,8.600)" fill="none" stroke="#000" stroke-width="1" stroke-linejoin="round"><path d="M 1.426,0.535 H 5.029"/><path d="M 1.912,0.035 L 0.971,5.116"/><path d="M 0.971,5.116 C 1.324,4.186 1.912,3.651 2.721,3.651 C 3.897,3.651 4.618,4.767 4.618,6.512 C 4.618,8.372 3.824,9.465 2.426,9.465 C 1.250,9.465 0.588,8.605 0.471,7.349"/></g>
<rect transform="translate(754.00,1652.70) scale(0.3720,0.3130)" x="0" y="75.5" width="7.6" height="10.1" fill="#000"/>
<path transform="translate(767.20,1652.70) scale(0.3720,0.3130)" d="M12.60,0.00 L17.20,0.00 L14.25,85.00 L8.00,85.00 L10.40,16.80 L0.35,28.30 L0.00,19.70 Z " fill="#000" fill-rule="evenodd"/>
<path transform="translate(780.10,1652.70) scale(0.3720,0.3130)" d="M12.60,0.00 L17.20,0.00 L14.25,85.00 L8.00,85.00 L10.40,16.80 L0.35,28.30 L0.00,19.70 Z " fill="#000" fill-rule="evenodd"/>
<path transform="translate(980.70,326.90) scale(1.0000,1.0000)" d="M12.60,0.00 L17.20,0.00 L14.25,85.00 L8.00,85.00 L10.40,16.80 L0.35,28.30 L0.00,19.70 Z " fill="#000" fill-rule="evenodd"/>
<g class="dg" transform="translate(279.20,323.70) scale(1.0000,1.0000) translate(0,42.80) skewX(-2) translate(0,-42.80) scale(6.800,8.600)" fill="none" stroke="#000" stroke-width="1" stroke-linejoin="round"><path d="M 0.603,2.651 C 0.662,1.221 1.471,0.500 2.574,0.500 C 3.750,0.500 4.382,1.337 4.382,2.442 C 4.382,3.488 3.897,4.360 3.368,5.116 L 0.779,8.942 L 0.529,9.453"/><path d="M 0.074,9.453 H 4.559"/></g>
<g class="dg" transform="translate(276.10,669.40) scale(1.0000,1.0000) translate(0,42.80) skewX(-2) translate(0,-42.80) scale(6.800,8.600)" fill="none" stroke="#000" stroke-width="1" stroke-linejoin="round"><path d="M 0.691,2.558 C 0.809,1.163 1.544,0.500 2.500,0.500 C 3.603,0.500 4.235,1.279 4.235,2.500 C 4.235,3.721 3.382,4.698 1.912,4.698"/><path d="M 1.912,4.698 C 3.456,4.698 4.324,5.698 4.324,7.093 C 4.324,8.547 3.676,9.465 2.426,9.465 C 1.250,9.465 0.515,8.721 0.397,7.395"/></g>
<path transform="translate(968.80,772.30) scale(1.0000,1.0000)" d="M25.80,0.00 L31.60,0.00 L30.00,57.70 L37.10,57.70 L37.10,66.00 L29.70,66.00 L29.20,84.80 L22.90,84.80 L23.60,66.00 L0.00,66.00 L0.00,57.50 Z M24.40,18.60 L7.40,57.50 L23.90,57.50 Z " fill="#000" fill-rule="evenodd"/>
<g class="dg" transform="translate(976.40,1193.90) scale(1.0000,1.0000) translate(0,42.80) skewX(-2) translate(0,-42.80) scale(6.800,8.600)" fill="none" stroke="#000" stroke-width="1" stroke-linejoin="round"><path d="M 1.426,0.535 H 5.029"/><path d="M 1.912,0.035 L 0.971,5.116"/><path d="M 0.971,5.116 C 1.324,4.186 1.912,3.651 2.721,3.651 C 3.897,3.651 4.618,4.767 4.618,6.512 C 4.618,8.372 3.824,9.465 2.426,9.465 C 1.250,9.465 0.588,8.605 0.471,7.349"/></g>
<g class="dg" transform="translate(434.00,886.00) scale(1.0000,1.0000) translate(0,42.80) skewX(-2) translate(0,-42.80) scale(6.800,8.600)" fill="none" stroke="#000" stroke-width="1" stroke-linejoin="round"><ellipse cx="2.529" cy="6.791" rx="2.029" ry="2.791"/><path d="M 3.515,0.000 L 0.765,5.465 C 0.588,5.814 0.500,6.279 0.500,6.791"/></g>
<g class="dg" transform="translate(439.00,1020.70) scale(1.0000,1.0000) translate(0,42.80) skewX(-2) translate(0,-42.80) scale(6.800,8.600)" fill="none" stroke="#000" stroke-width="1" stroke-linejoin="round"><path d="M 0.000,0.500 H 5.044"/><path d="M 4.500,0.581 C 3.235,3.488 2.059,6.395 1.265,9.756"/></g>
<g class="dg" transform="translate(437.00,1139.50) scale(1.0000,1.0000) translate(0,42.80) skewX(-2) translate(0,-42.80) scale(6.800,8.600)" fill="none" stroke="#000" stroke-width="1" stroke-linejoin="round"><ellipse cx="2.551" cy="2.558" rx="1.566" ry="2.058"/><ellipse cx="2.522" cy="7.233" rx="2.022" ry="2.326"/></g>
<g class="dg" transform="translate(440.30,1253.20) scale(1.0000,1.0000) translate(0,42.80) skewX(-2) translate(0,-42.80) scale(6.800,8.600)" fill="none" stroke="#000" stroke-width="1" stroke-linejoin="round"><ellipse cx="2.471" cy="3.198" rx="1.971" ry="2.698"/><path d="M 4.353,3.953 L 1.632,10.035"/></g>
<path transform="translate(419.80,1371.90) scale(1.0000,1.0000)" d="M12.60,0.00 L17.20,0.00 L14.25,85.00 L8.00,85.00 L10.40,16.80 L0.35,28.30 L0.00,19.70 Z " fill="#000" fill-rule="evenodd"/>
<g class="dg" transform="translate(454.20,1371.90) scale(1.0000,1.0000) translate(0,42.80) skewX(-2) translate(0,-42.80) scale(6.800,8.600)" fill="none" stroke="#000" stroke-width="1" stroke-linejoin="round"><ellipse cx="2.441" cy="5.047" rx="1.941" ry="4.547"/></g>
<path transform="translate(663.00,779.80) scale(1.0000,1.0000)" d="M12.60,0.00 L17.20,0.00 L14.25,85.00 L8.00,85.00 L10.40,16.80 L0.35,28.30 L0.00,19.70 Z " fill="#000" fill-rule="evenodd"/>
<path transform="translate(702.40,779.80) scale(1.0000,1.0000)" d="M12.60,0.00 L17.20,0.00 L14.25,85.00 L8.00,85.00 L10.40,16.80 L0.35,28.30 L0.00,19.70 Z " fill="#000" fill-rule="evenodd"/>
<path transform="translate(661.10,1164.30) scale(1.0000,1.0000)" d="M12.60,0.00 L17.20,0.00 L14.25,85.00 L8.00,85.00 L10.40,16.80 L0.35,28.30 L0.00,19.70 Z " fill="#000" fill-rule="evenodd"/>
<g class="dg" transform="translate(695.10,1164.00) scale(1.0000,1.0000) translate(0,42.80) skewX(-2) translate(0,-42.80) scale(6.800,8.600)" fill="none" stroke="#000" stroke-width="1" stroke-linejoin="round"><path d="M 0.603,2.651 C 0.662,1.221 1.471,0.500 2.574,0.500 C 3.750,0.500 4.382,1.337 4.382,2.442 C 4.382,3.488 3.897,4.360 3.368,5.116 L 0.779,8.942 L 0.529,9.453"/><path d="M 0.074,9.453 H 4.559"/></g>
<path transform="translate(157.40,1122.00) scale(1.0000,1.0000)" d="M12.60,0.00 L17.20,0.00 L14.25,85.00 L8.00,85.00 L10.40,16.80 L0.35,28.30 L0.00,19.70 Z " fill="#000" fill-rule="evenodd"/>
<g class="dg" transform="translate(191.80,1122.00) scale(1.0000,1.0000) translate(0,42.80) skewX(-2) translate(0,-42.80) scale(6.800,8.600)" fill="none" stroke="#000" stroke-width="1" stroke-linejoin="round"><path d="M 0.691,2.558 C 0.809,1.163 1.544,0.500 2.500,0.500 C 3.603,0.500 4.235,1.279 4.235,2.500 C 4.235,3.721 3.382,4.698 1.912,4.698"/><path d="M 1.912,4.698 C 3.456,4.698 4.324,5.698 4.324,7.093 C 4.324,8.547 3.676,9.465 2.426,9.465 C 1.250,9.465 0.515,8.721 0.397,7.395"/></g>
<path transform="translate(161.10,1362.00) scale(1.0000,1.0000)" d="M12.60,0.00 L17.20,0.00 L14.25,85.00 L8.00,85.00 L10.40,16.80 L0.35,28.30 L0.00,19.70 Z " fill="#000" fill-rule="evenodd"/>
<path transform="translate(193.00,1362.00) scale(1.0000,1.0000)" d="M25.80,0.00 L31.60,0.00 L30.00,57.70 L37.10,57.70 L37.10,66.00 L29.70,66.00 L29.20,84.80 L22.90,84.80 L23.60,66.00 L0.00,66.00 L0.00,57.50 Z M24.40,18.60 L7.40,57.50 L23.90,57.50 Z " fill="#000" fill-rule="evenodd"/>
<g class="dg" transform="translate(98.90,478.00) scale(0.3820,0.3290) translate(0,42.80) skewX(-2) translate(0,-42.80) scale(6.800,8.600)" fill="none" stroke="#000" stroke-width="1" stroke-linejoin="round"><path d="M 0.603,2.651 C 0.662,1.221 1.471,0.500 2.574,0.500 C 3.750,0.500 4.382,1.337 4.382,2.442 C 4.382,3.488 3.897,4.360 3.368,5.116 L 0.779,8.942 L 0.529,9.453"/><path d="M 0.074,9.453 H 4.559"/></g>
<rect transform="translate(112.60,478.00) scale(0.3820,0.3290)" x="0" y="75.5" width="7.6" height="10.1" fill="#000"/>
<path transform="translate(127.40,478.00) scale(0.3820,0.3290)" d="M12.60,0.00 L17.20,0.00 L14.25,85.00 L8.00,85.00 L10.40,16.80 L0.35,28.30 L0.00,19.70 Z " fill="#000" fill-rule="evenodd"/>
<g class="dg" transform="translate(202.80,476.40) scale(0.3820,0.3290) translate(0,42.80) skewX(-2) translate(0,-42.80) scale(6.800,8.600)" fill="none" stroke="#000" stroke-width="1" stroke-linejoin="round"><path d="M 0.603,2.651 C 0.662,1.221 1.471,0.500 2.574,0.500 C 3.750,0.500 4.382,1.337 4.382,2.442 C 4.382,3.488 3.897,4.360 3.368,5.116 L 0.779,8.942 L 0.529,9.453"/><path d="M 0.074,9.453 H 4.559"/></g>
<rect transform="translate(217.00,476.40) scale(0.3820,0.3290)" x="0" y="75.5" width="7.6" height="10.1" fill="#000"/>
<g class="dg" transform="translate(229.40,476.40) scale(0.3820,0.3290) translate(0,42.80) skewX(-2) translate(0,-42.80) scale(6.800,8.600)" fill="none" stroke="#000" stroke-width="1" stroke-linejoin="round"><path d="M 0.603,2.651 C 0.662,1.221 1.471,0.500 2.574,0.500 C 3.750,0.500 4.382,1.337 4.382,2.442 C 4.382,3.488 3.897,4.360 3.368,5.116 L 0.779,8.942 L 0.529,9.453"/><path d="M 0.074,9.453 H 4.559"/></g>
<g class="dg" transform="translate(297.40,477.50) scale(0.3820,0.3290) translate(0,42.80) skewX(-2) translate(0,-42.80) scale(6.800,8.600)" fill="none" stroke="#000" stroke-width="1" stroke-linejoin="round"><path d="M 0.603,2.651 C 0.662,1.221 1.471,0.500 2.574,0.500 C 3.750,0.500 4.382,1.337 4.382,2.442 C 4.382,3.488 3.897,4.360 3.368,5.116 L 0.779,8.942 L 0.529,9.453"/><path d="M 0.074,9.453 H 4.559"/></g>
<rect transform="translate(311.10,477.50) scale(0.3820,0.3290)" x="0" y="75.5" width="7.6" height="10.1" fill="#000"/>
<g class="dg" transform="translate(324.10,477.50) scale(0.3820,0.3290) translate(0,42.80) skewX(-2) translate(0,-42.80) scale(6.800,8.600)" fill="none" stroke="#000" stroke-width="1" stroke-linejoin="round"><path d="M 0.691,2.558 C 0.809,1.163 1.544,0.500 2.500,0.500 C 3.603,0.500 4.235,1.279 4.235,2.500 C 4.235,3.721 3.382,4.698 1.912,4.698"/><path d="M 1.912,4.698 C 3.456,4.698 4.324,5.698 4.324,7.093 C 4.324,8.547 3.676,9.465 2.426,9.465 C 1.250,9.465 0.515,8.721 0.397,7.395"/></g>
<g class="dg" transform="translate(357.00,477.50) scale(0.3820,0.3290) translate(0,42.80) skewX(-2) translate(0,-42.80) scale(6.800,8.600)" fill="none" stroke="#000" stroke-width="1" stroke-linejoin="round"><path d="M 0.603,2.651 C 0.662,1.221 1.471,0.500 2.574,0.500 C 3.750,0.500 4.382,1.337 4.382,2.442 C 4.382,3.488 3.897,4.360 3.368,5.116 L 0.779,8.942 L 0.529,9.453"/><path d="M 0.074,9.453 H 4.559"/></g>
<rect transform="translate(370.70,477.50) scale(0.3820,0.3290)" x="0" y="75.5" width="7.6" height="10.1" fill="#000"/>
<path transform="translate(382.30,477.50) scale(0.3820,0.3290)" d="M25.80,0.00 L31.60,0.00 L30.00,57.70 L37.10,57.70 L37.10,66.00 L29.70,66.00 L29.20,84.80 L22.90,84.80 L23.60,66.00 L0.00,66.00 L0.00,57.50 Z M24.40,18.60 L7.40,57.50 L23.90,57.50 Z " fill="#000" fill-rule="evenodd"/>
<g class="dg" transform="translate(418.00,476.00) scale(0.3820,0.3290) translate(0,42.80) skewX(-2) translate(0,-42.80) scale(6.800,8.600)" fill="none" stroke="#000" stroke-width="1" stroke-linejoin="round"><path d="M 0.603,2.651 C 0.662,1.221 1.471,0.500 2.574,0.500 C 3.750,0.500 4.382,1.337 4.382,2.442 C 4.382,3.488 3.897,4.360 3.368,5.116 L 0.779,8.942 L 0.529,9.453"/><path d="M 0.074,9.453 H 4.559"/></g>
<rect transform="translate(431.30,476.00) scale(0.3820,0.3290)" x="0" y="75.5" width="7.6" height="10.1" fill="#000"/>
<g class="dg" transform="translate(442.70,476.00) scale(0.3820,0.3290) translate(0,42.80) skewX(-2) translate(0,-42.80) scale(6.800,8.600)" fill="none" stroke="#000" stroke-width="1" stroke-linejoin="round"><path d="M 1.426,0.535 H 5.029"/><path d="M 1.912,0.035 L 0.971,5.116"/><path d="M 0.971,5.116 C 1.324,4.186 1.912,3.651 2.721,3.651 C 3.897,3.651 4.618,4.767 4.618,6.512 C 4.618,8.372 3.824,9.465 2.426,9.465 C 1.250,9.465 0.588,8.605 0.471,7.349"/></g>
<g class="dg" transform="translate(479.60,475.40) scale(0.3820,0.3290) translate(0,42.80) skewX(-2) translate(0,-42.80) scale(6.800,8.600)" fill="none" stroke="#000" stroke-width="1" stroke-linejoin="round"><path d="M 0.603,2.651 C 0.662,1.221 1.471,0.500 2.574,0.500 C 3.750,0.500 4.382,1.337 4.382,2.442 C 4.382,3.488 3.897,4.360 3.368,5.116 L 0.779,8.942 L 0.529,9.453"/><path d="M 0.074,9.453 H 4.559"/></g>
<rect transform="translate(493.50,475.40) scale(0.3820,0.3290)" x="0" y="75.5" width="7.6" height="10.1" fill="#000"/>
<g class="dg" transform="translate(505.60,475.40) scale(0.3820,0.3290) translate(0,42.80) skewX(-2) translate(0,-42.80) scale(6.800,8.600)" fill="none" stroke="#000" stroke-width="1" stroke-linejoin="round"><ellipse cx="2.529" cy="6.791" rx="2.029" ry="2.791"/><path d="M 3.515,0.000 L 0.765,5.465 C 0.588,5.814 0.500,6.279 0.500,6.791"/></g>
<g class="dg" transform="translate(491.10,596.90) scale(0.3820,0.3290) translate(0,42.80) skewX(-2) translate(0,-42.80) scale(6.800,8.600)" fill="none" stroke="#000" stroke-width="1" stroke-linejoin="round"><path d="M 0.603,2.651 C 0.662,1.221 1.471,0.500 2.574,0.500 C 3.750,0.500 4.382,1.337 4.382,2.442 C 4.382,3.488 3.897,4.360 3.368,5.116 L 0.779,8.942 L 0.529,9.453"/><path d="M 0.074,9.453 H 4.559"/></g>
<rect transform="translate(504.40,596.90) scale(0.3820,0.3290)" x="0" y="75.5" width="7.6" height="10.1" fill="#000"/>
<g class="dg" transform="translate(516.50,596.90) scale(0.3820,0.3290) translate(0,42.80) skewX(-2) translate(0,-42.80) scale(6.800,8.600)" fill="none" stroke="#000" stroke-width="1" stroke-linejoin="round"><path d="M 0.000,0.500 H 5.044"/><path d="M 4.500,0.581 C 3.235,3.488 2.059,6.395 1.265,9.756"/></g>
<!-- 90_watermark.svg -->
<g opacity="0.3">
<g fill="#1f1f1f">
<path d="M109.3,824 H165.3 V889 H225.9 V824 H282.1 V1010 H225.9 V933.3 H165.3 V1010 H109.3 Z"/>
<rect x="332.4" y="769" width="42" height="28.6"/>
<rect x="436.2" y="769" width="41.8" height="28.6"/>
<path d="M318.5,824 H374.8 V926 C374.8,955 385,970 402,970 H409 C426,970 435.9,955 435.9,926 V824 H492.1 V935 C492.1,972 460.6,1012.7 418.6,1012.7 H392 C350,1012.7 318.5,972 318.5,935 Z"/>
<path d="M516,824 H685.1 V869.6 H628.2 V1010 H573 V869.6 H516 Z"/>
<path d="M710.7,824 H859.2 V863.5 H765.8 V893.8 H853 V930 H765.8 V968.2 H860.7 V1010 H710.7 Z"/>
<path fill-rule="evenodd" d="M893,824 H1005 C1040,824 1056.5,845 1056.5,878 C1056.5,905 1042,922 1015.4,928.5 L1070.3,1010 H1011 L971,932 H948.9 V1010 H893 Z M948.9,861.7 V898.4 H985 C996,898.4 1001.2,891 1001.2,880 C1001.2,869 996,861.7 985,861.7 Z"/>
<path d="M1002.3,744.9 H1067.3 L1050.9,764.5 L1040,790 L1000,830 L988.6,817.2 H961.8 C961.5,797 970,775 982.4,759.7 C988,753 995,748 1002.3,744.9 Z"/>
</g>
<path d="M1029.7,770.3 H1094 L1081,784.6 H1060 L1030,841.2 H987.9 C990,825 996,808 1005.7,796.6 C1012,786 1020,777 1029.7,770.3 Z" fill="#e30613" stroke="#fff" stroke-width="10" paint-order="stroke" stroke-linejoin="miter"/>
<path d="M1055.7,790.5 H1120.1 C1112,800 1100,818 1093.4,833.6 C1089,845 1086,855 1085.1,862.4 H1015.3 C1017,850 1022,836 1031.7,820 C1038,809 1046,798 1055.7,790.5 Z" fill="#ffed00" stroke="#fff" stroke-width="10" paint-order="stroke" stroke-linejoin="miter"/>
</g>

</svg>
</body></html>
